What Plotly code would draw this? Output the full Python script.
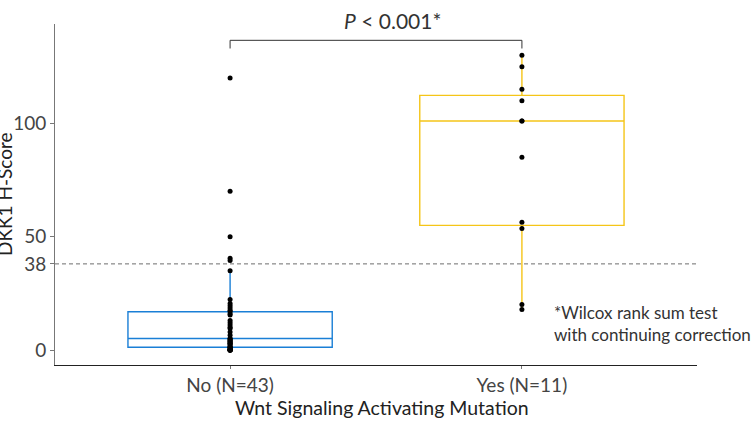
import plotly.graph_objects as go

# ---------------- data ----------------
categories = ["No (N=43)", "Yes (N=11)"]

no_values = [120, 70, 50, 40.5, 39.5, 35,
             22.3, 20.5, 19.5, 18.5, 17.5, 17, 16, 15.5,
             13, 12, 11, 10, 9.5,
             8, 6.5, 5.1, 5, 4.5, 4, 4, 3.5, 3, 3, 2.5, 2, 1.5, 1.2, 1, 1, 0.5,
             0, 0, 0, 0, 0, 0, 0]
yes_values = [130, 125, 115, 110, 101, 101, 85, 56.4, 53.6, 20.1, 17.9]

q1_vals = [1.2, 55.0]
median_vals = [5.1, 101.0]
q3_vals = [16.9, 112.3]
lower_fences = [0.0, 17.9]
upper_fences = [35.0, 130.0]

box_colors = ["#1a7fd6", "#f5c518"]
threshold = 38
y_tickvals = [0, 38, 50, 100]
y_range = [-6.6, 143.8]
x_range = [-0.6, 1.6]
bracket_y = 136.6
bracket_tip = 133.0

p_label = "<i>P</i> < 0.001*"
footnote = "*Wilcox rank sum test<br>with continuing correction"
x_title = "Wnt Signaling Activating Mutation"
y_title = "DKK1 H-Score"

# ---------------- figure ----------------
W, H = 756, 421
ML, MR, MT, MB = 55, 59, 24, 56
PW, PH = W - ML - MR, H - MT - MB

def px_x(px):
    return (px - ML) / PW

def px_y(py):
    return (H - MB - py) / PH

FONT = "Lato"
fig = go.Figure()

for i, cat in enumerate(categories):
    fig.add_trace(go.Box(
        x=[cat], q1=[q1_vals[i]], median=[median_vals[i]], q3=[q3_vals[i]],
        lowerfence=[lower_fences[i]], upperfence=[upper_fences[i]],
        boxpoints=False, width=0.7, whiskerwidth=0,
        fillcolor="rgba(255,255,255,0)",
        line=dict(color=box_colors[i], width=1.4),
        showlegend=False, hoverinfo="skip",
    ))

for cat, vals in zip(categories, [no_values, yes_values]):
    fig.add_trace(go.Scatter(
        x=[cat] * len(vals), y=vals, mode="markers",
        marker=dict(size=5, color="black"),
        showlegend=False,
    ))

# threshold dashed line
fig.add_shape(type="line", xref="paper", x0=0, x1=1, yref="y", y0=threshold, y1=threshold,
              line=dict(color="#6e6e6e", width=1, dash="4px,3px"), layer="below")

# significance bracket
fig.add_shape(type="path", xref="x", yref="y",
              path=f"M 0,{bracket_tip} L 0,{bracket_y} L 1,{bracket_y} L 1,{bracket_tip}",
              line=dict(color="#333333", width=1))

annotations = [
    dict(text=p_label, xref="paper", yref="paper", x=px_x(393), y=px_y(20),
         xanchor="center", yanchor="middle", showarrow=False,
         font=dict(family=FONT, size=21, color="#333333")),
    dict(text=footnote, xref="paper", yref="paper", x=px_x(552), y=px_y(323.5),
         xanchor="left", yanchor="middle", align="left", showarrow=False,
         font=dict(family=FONT, size=17, color="#333333")),
    dict(text=x_title, xref="paper", yref="paper", x=px_x(382), y=px_y(408),
         xanchor="center", yanchor="middle", showarrow=False,
         font=dict(family=FONT, size=19.5, color="#222222")),
    dict(text=y_title, xref="paper", yref="paper", x=px_x(4), y=px_y(194),
         xanchor="center", yanchor="middle", textangle=-90, showarrow=False,
         font=dict(family=FONT, size=19, color="#222222")),
]

fig.update_layout(
    width=W, height=H,
    margin=dict(l=ML, r=MR, t=MT, b=MB, pad=0),
    paper_bgcolor="white", plot_bgcolor="white",
    boxmode="overlay",
    annotations=annotations,
    font=dict(family=FONT, size=19, color="#4d4d4d"),
)
fig.update_xaxes(
    type="category", categoryorder="array", categoryarray=categories,
    range=x_range, showgrid=False, zeroline=False,
    showline=True, linecolor="#222222", linewidth=1,
    ticks="outside", ticklen=3, tickcolor="#777777",
    tickfont=dict(family=FONT, size=19, color="#444444"),
)
fig.update_yaxes(
    range=y_range, tickvals=y_tickvals, showgrid=False, zeroline=False,
    showline=True, linecolor="#777777", linewidth=1,
    ticks="outside", ticklen=4, tickcolor="#777777",
    tickfont=dict(family=FONT, size=19, color="#444444"),
)

fig.write_html(
    "out.html",
    config={"displayModeBar": False},
    post_script="document.body.style.margin='0';document.body.style.overflow='hidden';",
)
